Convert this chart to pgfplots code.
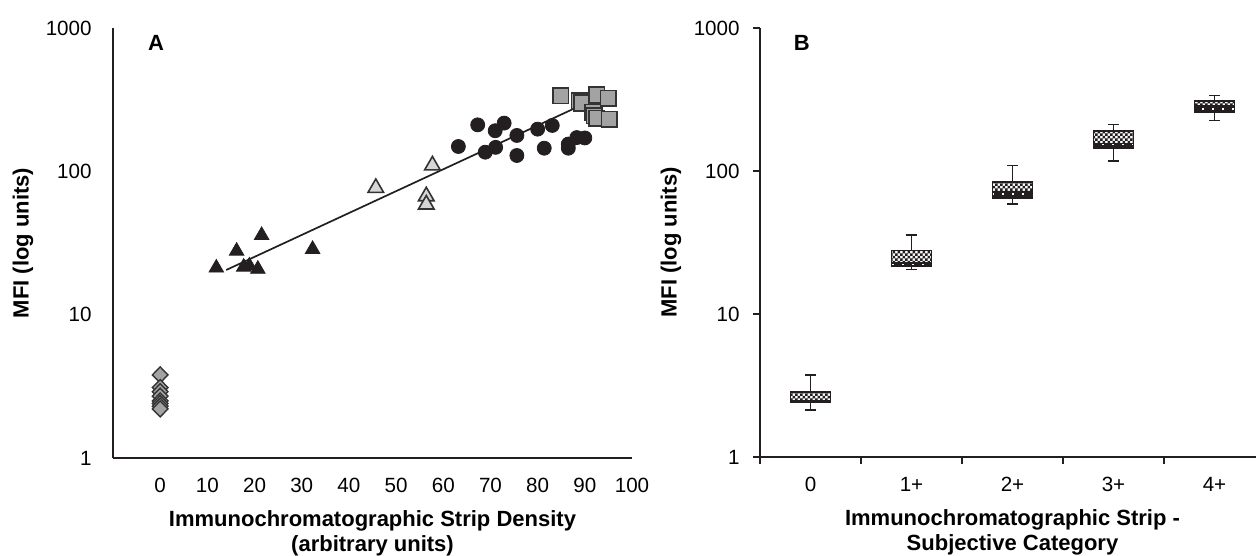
\documentclass[border=0pt]{standalone}
\usepackage{pgfplots}
\pgfplotsset{compat=1.18}
\usetikzlibrary{patterns}
\usepackage{fontspec}
\setmainfont{Liberation Sans}

\definecolor{ink}{HTML}{231F20}
\definecolor{ltgrey}{HTML}{D6D6D6}
\definecolor{mdgrey}{HTML}{A3A3A3}
\definecolor{edge}{HTML}{333333}

% fine checkerboard used for the upper half of the boxes
\pgfdeclarepatternformonly{finecheck}{\pgfqpoint{-0.1bp}{-0.1bp}}{\pgfqpoint{2.6bp}{2.6bp}}{\pgfqpoint{2.5bp}{2.5bp}}{%
  \pgfpathrectangle{\pgfqpoint{0bp}{0bp}}{\pgfqpoint{1.25bp}{1.25bp}}%
  \pgfpathrectangle{\pgfqpoint{1.25bp}{1.25bp}}{\pgfqpoint{1.25bp}{1.25bp}}%
  \pgfusepath{fill}}
% sparse light dots for the dark lower half
\pgfdeclarepatternformonly{sparsedots}{\pgfqpoint{-0.1bp}{-0.1bp}}{\pgfqpoint{5.1bp}{2.6bp}}{\pgfqpoint{5bp}{2.5bp}}{%
  \pgfpathrectangle{\pgfqpoint{1.2bp}{0.6bp}}{\pgfqpoint{0.9bp}{0.9bp}}%
  \pgfusepath{fill}}

\newcommand{\tickfont}{\fontsize{10.3bp}{12bp}\selectfont}
\newcommand{\labfont}{\bfseries\fontsize{11bp}{12.5bp}\selectfont}

% pos, lower whisker, Q1, median, Q3, upper whisker
\newcommand{\bbox}[6]{%
  \pgfmathsetmacro\boxL{#1-0.2}\pgfmathsetmacro\boxR{#1+0.2}%
  \pgfmathsetmacro\capL{#1-0.05}\pgfmathsetmacro\capR{#1+0.05}%
  \addplot[draw=ink, line width=0.8bp] coordinates {(#1,#2)(#1,#6)};
  \addplot[draw=ink, line width=0.8bp] coordinates {(\capL,#2)(\capR,#2)};
  \addplot[draw=ink, line width=0.8bp] coordinates {(\capL,#6)(\capR,#6)};
  \addplot[draw=ink, line width=0.7bp, fill=white,
    postaction={pattern=finecheck, pattern color=ink}]
    coordinates {(\boxL,#3)(\boxR,#3)(\boxR,#5)(\boxL,#5)(\boxL,#3)};
  \addplot[draw=ink, line width=0.7bp, fill=ink,
    postaction={pattern=sparsedots, pattern color=white}]
    coordinates {(\boxL,#3)(\boxR,#3)(\boxR,#4)(\boxL,#4)(\boxL,#3)};
}

\begin{document}
\begin{tikzpicture}
\useasboundingbox (0,0) rectangle (628bp,278bp);

% ---------- panel A ----------
\begin{axis}[
  scale only axis, anchor=south west,
  at={(56.5bp,49bp)}, width=259.5bp, height=215bp,
  ymode=log, ymin=1, ymax=1000,
  ytick={1,10,100,1000}, yticklabels={1,10,100,1000},
  yminorticks=false,
  xmin=-10, xmax=100,
  xtick={0,10,...,100},
  axis x line*=bottom, axis y line*=left,
  axis line style={-, line width=0.75bp, draw=ink},
  major tick length=0pt,
  /pgf/number format/assume math mode=true,
  ticklabel style={font=\tickfont, inner sep=0pt},
  xticklabel style={anchor=north, yshift=-10bp},
  yticklabel style={anchor=east, xshift=-10.5bp},
  xlabel={Immunochromatographic Strip Density\\(arbitrary units)},
  ylabel={MFI (log units)},
  every axis y label/.style={at={(axis description cs:0,0.5)}, xshift=-45bp, rotate=90, anchor=center, font=\labfont},
  every axis x label/.style={at={(axis description cs:0.5,0)}, yshift=-37.5bp, anchor=center, align=center, font=\labfont},
  clip=false,
]
\addplot[only marks, mark=diamond*, mark size=4bp, draw=edge, fill=mdgrey,
  mark options={xscale=1.3, line width=0.7bp}]
  coordinates {(0,3.8)(0,3.1)(0,2.9)(0,2.7)(0,2.5)(0,2.4)(0,2.3)(0,2.2)};
\addplot[only marks, mark=triangle*, mark size=4.2bp, draw=ink, fill=ink]
  coordinates {(11.9,21.2)(16.2,27.8)(17.7,21.5)(18.9,21.9)(20.7,20.8)(21.5,35.8)(32.3,28.6)};
\addplot[only marks, mark=*, mark size=3.5bp, draw=ink, fill=ink]
  coordinates {(63.2,149)(67.3,211)(68.9,136)(71,192)(71.1,147)(72.9,217)(75.6,178)
    (75.6,129)(80,197)(81.4,145)(83.1,209)(86.5,155)(86.5,145)(88.3,172)(90,171)};
\addplot[only marks, mark=square*, mark size=3.9bp, draw=edge, fill=mdgrey,
  mark options={line width=0.8bp}]
  coordinates {(84.9,336)(88.8,310)(89.3,300)(92.5,341)(95,323)(91.7,258)(92,245)
    (92.5,235)(95.2,231)};
\addplot[ink, line width=0.85bp] coordinates {(14,20.5)(93,330)};
\addplot[only marks, mark=triangle*, mark size=4.5bp, draw=edge, fill=ltgrey,
  mark options={line width=0.8bp}]
  coordinates {(45.7,76.6)(56.4,67)(56.4,58.7)(57.7,110)};
\node[font=\labfont] at (rel axis cs:0.083,0.965) {A};
\end{axis}

% ---------- panel B ----------
\begin{axis}[
  scale only axis, anchor=south west,
  at={(380bp,49.5bp)}, width=252.5bp, height=214.5bp,
  ymode=log, ymin=1, ymax=1000,
  ytick={1,10,100,1000}, yticklabels={1,10,100,1000},
  yminorticks=false,
  xmin=0, xmax=5,
  xtick={0,1,...,5}, xticklabels={},
  extra x ticks={0.5,1.5,2.5,3.5,4.5},
  extra x tick labels={0,1+,2+,3+,4+},
  extra x tick style={major tick length=0pt, tick style={draw=none}},
  axis x line*=bottom, axis y line*=left,
  axis line style={-, line width=0.75bp, draw=ink},
  tick style={line width=0.75bp, draw=ink},
  tick align=outside, major tick length=3.5bp,
  /pgf/number format/assume math mode=true,
  ticklabel style={font=\tickfont, inner sep=0pt},
  xticklabel style={anchor=north, yshift=-10bp},
  yticklabel style={anchor=east, xshift=-6.5bp},
  xlabel={Immunochromatographic Strip -\\Subjective Category},
  ylabel={MFI (log units)},
  every axis y label/.style={at={(axis description cs:0,0.5)}, xshift=-44.5bp, rotate=90, anchor=center, font=\labfont},
  every axis x label/.style={at={(axis description cs:0.5,0)}, yshift=-37.5bp, anchor=center, align=center, font=\labfont},
  clip=false,
]
\bbox{0.5}{2.14}{2.43}{2.48}{2.84}{3.75}
\bbox{1.5}{20.5}{21.4}{22.8}{27.7}{35.8}
\bbox{2.5}{58.6}{64.5}{72}{84}{109}
\bbox{3.5}{117}{143}{156}{190}{211}
\bbox{4.5}{226}{256}{284}{309}{337}
\node[font=\labfont] at (rel axis cs:0.083,0.965) {B};
\end{axis}
\end{tikzpicture}
\end{document}
